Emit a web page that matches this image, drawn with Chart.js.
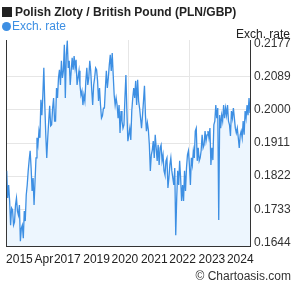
<!DOCTYPE html>
<html>
<head>
<meta charset="utf-8">
<script src="https://cdn.jsdelivr.net/npm/chart.js@4.4.1/dist/chart.umd.min.js"></script>
<style>
  html, body { margin: 0; padding: 0; background: #fff; }
  #wrap { position: relative; width: 295px; height: 288px; font-family: 'Liberation Sans', Arial, sans-serif; }
  #wrap canvas { position: absolute; left: 0; top: 0; }
  .txt { position: absolute; white-space: nowrap; line-height: 1; }
  #title { left: 2px; top: 6px; font-size: 12px; font-weight: bold; color: #222; }
  #title span { display: inline-block; width: 10px; height: 10px; background: #222; margin-right: 3px; vertical-align: -1px; }
  #legend { left: 2px; top: 20px; font-size: 12px; color: #3d8fe3; }
  #legend span { display: inline-block; width: 9px; height: 9px; border-radius: 50%; background: #3d8fe3; margin-right: 1px; vertical-align: -1px; }
  #yname { right: 5px; top: 28px; font-size: 12px; color: #222; }
  #credit { right: 4px; top: 270px; font-size: 12px; color: #333; }
</style>
</head>
<body>
<div id="wrap">
  <canvas id="chart" width="295" height="288"></canvas>
  <div class="txt" id="title"><span></span>Polish Zloty / British Pound (PLN/GBP)</div>
  <div class="txt" id="legend"><span></span>Exch. rate</div>
  <div class="txt" id="yname">Exch. rate</div>
  <div class="txt" id="credit">© Chartoasis.com</div>
</div>
<script>
// ── DATA ── PLN/GBP, roughly 2014 → 2024
const rates = [
  0.1836, 0.1763, 0.1798, 0.1755, 0.1690, 0.1736, 0.1731, 0.1690, 0.1698, 0.1744,
  0.1763, 0.1728, 0.1717, 0.1744, 0.1647, 0.1682, 0.1690, 0.1655, 0.1728, 0.1701,
  0.1771, 0.1798, 0.1836, 0.1865, 0.1890, 0.1844, 0.1782, 0.1817, 0.1744, 0.1809,
  0.1871, 0.1925, 0.1906, 0.1943, 0.1925, 0.2027, 0.1986, 0.2040, 0.2113, 0.2013,
  0.1933, 0.1871, 0.1925, 0.1970, 0.2011, 0.1957, 0.1960, 0.2005, 0.2032, 0.1970,
  0.1970, 0.2059, 0.2032, 0.2086, 0.2108, 0.2067, 0.2132, 0.2086, 0.2105, 0.2175,
  0.2032, 0.2148, 0.2186, 0.2113, 0.2132, 0.2067, 0.2105, 0.2140, 0.2108, 0.2145,
  0.2113, 0.2135, 0.2067, 0.2086, 0.2105, 0.2067, 0.2040, 0.2051, 0.2013, 0.2040,
  0.2024, 0.2078, 0.2113, 0.2067, 0.2086, 0.2132, 0.2105, 0.2054, 0.2013, 0.2067,
  0.2086, 0.2113, 0.2108, 0.2078, 0.2024, 0.2059, 0.2013, 0.1978, 0.1984, 0.2005,
  0.2005, 0.2059, 0.2105, 0.2059, 0.2086, 0.2121, 0.2148, 0.2105, 0.2153, 0.2094,
  0.2040, 0.2013, 0.2032, 0.2013, 0.1978, 0.2013, 0.1938, 0.1997, 0.1970, 0.1951,
  0.1960, 0.2032, 0.2094, 0.1997, 0.1916, 0.1933, 0.1951, 0.1919, 0.1997, 0.2032,
  0.2059, 0.2032, 0.2078, 0.2013, 0.2081, 0.2024, 0.2005, 0.1978, 0.1951, 0.1986,
  0.2024, 0.2065, 0.1986, 0.1943, 0.1965, 0.1946, 0.1906, 0.1836, 0.1879, 0.1892,
  0.1916, 0.1871, 0.1933, 0.1898, 0.1863, 0.1906, 0.1852, 0.1898, 0.1906, 0.1863,
  0.1879, 0.1836, 0.1825, 0.1863, 0.1871, 0.1790, 0.1817, 0.1852, 0.1871, 0.1836,
  0.1817, 0.1798, 0.1844, 0.1663, 0.1763, 0.1836, 0.1798, 0.1863, 0.1817, 0.1755,
  0.1798, 0.1755, 0.1836, 0.1782, 0.1844, 0.1879, 0.1890, 0.1852, 0.1798, 0.1871,
  0.1852, 0.1890, 0.1871, 0.1943, 0.1951, 0.1863, 0.1898, 0.1863, 0.1871, 0.1890,
  0.1933, 0.1898, 0.1906, 0.1943, 0.1916, 0.1933, 0.1943, 0.1925, 0.1951, 0.1852,
  0.1898, 0.1865, 0.1960, 0.1970, 0.2013, 0.1978, 0.2005, 0.1704, 0.1986, 0.1951,
  0.1986, 0.1970, 0.2013, 0.1978, 0.2005, 0.1986, 0.2013, 0.1970, 0.1960, 0.1930,
  0.1997, 0.1978, 0.2005, 0.1978, 0.1951, 0.1938, 0.1951, 0.1925, 0.1898, 0.1933,
  0.1943, 0.1925, 0.1970, 0.1933, 0.1997, 0.1978, 0.2013, 0.1986, 0.2032, 0.1992
];

// x tick labels and the sample index each one sits on
const xLabels = ['2015', 'Apr', '2017', '2019', '2020', '2021', '2022', '2023', '2024'];
const xLabelAt = [13, 38, 62, 92, 121, 151, 180, 210, 239];

// y tick labels
const yLabels = ['0.1644', '0.1733', '0.1822', '0.1911', '0.2000', '0.2089', '0.2177'];
const Y_MIN = 0.1634;
const Y_MAX = 0.2188;

// ── COLOURS ──
const C = {
  line: '#3d8fe3',
  fill: '#edf6fe',
  grid: '#e6e6e6',
  axis: '#333333',
  text: '#222222',
};
const FONT = "'Liberation Sans', Arial, sans-serif";

const points = rates.map((v, i) => ({ x: i, y: v }));
const last = rates.length - 1;

new Chart(document.getElementById('chart'), {
  type: 'line',
  data: {
    datasets: [{
      label: 'Exch. rate',
      data: points,
      borderColor: C.line,
      backgroundColor: C.fill,
      borderWidth: 1.3,
      pointRadius: 0,
      tension: 0,
      fill: 'start',
    }]
  },
  options: {
    responsive: false,
    animation: false,
    layout: { padding: { top: 40, left: 0, right: 0, bottom: 0 } },
    plugins: { legend: { display: false }, tooltip: { enabled: false } },
    scales: {
      x: {
        type: 'linear',
        min: 0,
        max: last,
        afterBuildTicks: (s) => {
          const grid = [1, 2, 3].map(k => ({ value: last * k / 4, g: true }));
          const labs = xLabelAt.map((v, i) => ({ value: v, lab: xLabels[i] }));
          s.ticks = [...labs, ...grid];
        },
        afterFit: (s) => { s.height = 42; },
        ticks: {
          autoSkip: false,
          maxRotation: 0,
          padding: 6,
          color: C.text,
          font: { family: FONT, size: 12 },
          callback: function (v, i, ticks) { return ticks[i].lab || ''; }
        },
        grid: {
          drawTicks: false,
          color: (ctx) => (ctx.tick && ctx.tick.g) ? C.grid : 'rgba(0,0,0,0)',
          lineWidth: 1,
        },
        border: { color: C.axis, width: 1 }
      },
      y: {
        position: 'right',
        min: Y_MIN,
        max: Y_MAX,
        afterBuildTicks: (s) => { s.ticks = yLabels.map(l => ({ value: parseFloat(l) })); },
        afterFit: (s) => { s.width = 45; },
        ticks: {
          padding: 4,
          color: C.axis,
          font: { family: FONT, size: 12 },
          callback: (v) => v.toFixed(4)
        },
        grid: {
          drawTicks: false,
          color: (ctx) => (ctx.index === 0 || ctx.index === yLabels.length - 1) ? 'rgba(0,0,0,0)' : C.grid,
        },
        border: { color: C.axis, width: 1 }
      },
      yLeft: {
        position: 'left',
        min: Y_MIN,
        max: Y_MAX,
        ticks: { display: false },
        grid: { display: false, drawTicks: false },
        afterFit: (s) => { s.width = 1; },
        border: { color: C.axis, width: 1 }
      }
    }
  }
});
</script>
</body>
</html>
